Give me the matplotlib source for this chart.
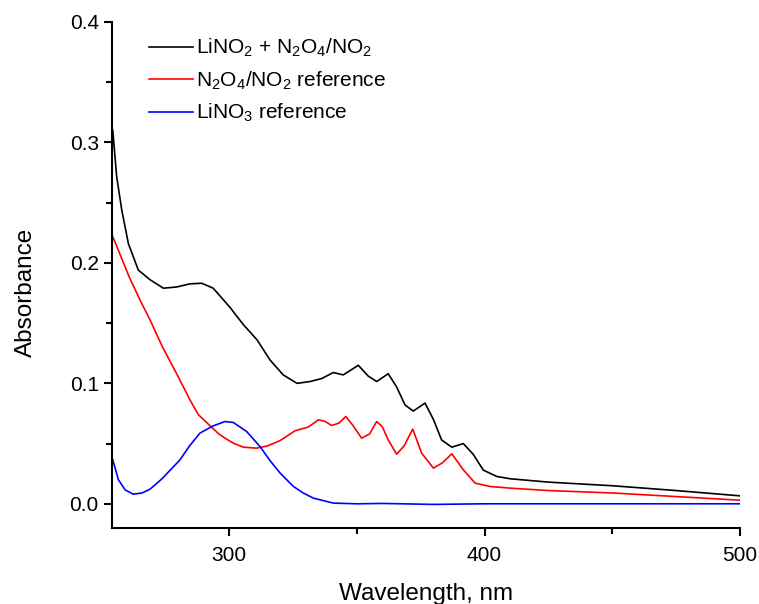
import matplotlib.pyplot as plt
from matplotlib.ticker import MultipleLocator

plt.rcParams['font.family'] = ['Liberation Sans', 'DejaVu Sans']
plt.rcParams['mathtext.fontset'] = 'custom'
plt.rcParams['mathtext.rm'] = 'Liberation Sans'
plt.rcParams['mathtext.default'] = 'regular'

# LiNO2 + N2O4/NO2 (black)
wl_mix = [254.5, 256.0, 258.0, 260.6, 264.5, 269.1, 274.3, 279.5, 284.7, 289.3, 293.8,
          300.4, 305.5, 311, 316, 321.2, 326.6, 331.7, 336.3, 340.8, 344.7, 350.6, 354.5,
          357.8, 362.3, 365.6, 368.9, 372.1, 376.7, 380, 383.2, 387.2, 391.7, 395.6, 399.5,
          404.8, 410, 425, 450, 475, 500]
abs_mix = [0.310, 0.272, 0.244, 0.216, 0.194, 0.186, 0.179, 0.180, 0.1826, 0.1831, 0.179,
           0.163, 0.149, 0.136, 0.1195, 0.107, 0.100, 0.1015, 0.104, 0.109, 0.107, 0.115, 0.106,
           0.1015, 0.108, 0.097, 0.082, 0.077, 0.0836, 0.070, 0.053, 0.047, 0.050, 0.041, 0.028,
           0.0227, 0.0208, 0.018, 0.015, 0.011, 0.0066]

# N2O4/NO2 reference (red)
wl_no2 = [254.5, 261, 265.2, 269, 274, 279, 284.7, 288, 292.6, 296, 299, 302, 305.6, 310.8,
          315, 320, 325.8, 331, 335, 337.5, 340.2, 343, 345.7, 348.5, 351.9, 355, 357.8, 360,
          362.3, 365.6, 368.5, 371.9, 375.4, 380, 383.5, 387.2, 391.7, 396.3, 402.1, 410,
          425, 450, 475, 500]
abs_no2 = [0.2218, 0.188, 0.169, 0.153, 0.130, 0.110, 0.0863, 0.074, 0.0647, 0.058, 0.0537,
           0.050, 0.047, 0.0462, 0.048, 0.0525, 0.0606, 0.0637, 0.0697, 0.0685, 0.065, 0.067,
           0.0725, 0.065, 0.0545, 0.058, 0.0683, 0.064, 0.053, 0.0412, 0.048, 0.062, 0.042,
           0.0296, 0.034, 0.0415, 0.0282, 0.0172, 0.0144, 0.013, 0.011, 0.009, 0.006, 0.003]

# LiNO3 reference (blue)
wl_no3 = [254.5, 256.7, 259.3, 262.5, 266, 269.1, 273.6, 277, 280.8, 284.5, 288.6, 293.8,
          298.4, 301.7, 306.9, 312.1, 316, 320, 325.2, 329, 333, 340.8, 350, 360, 380,
          400, 450, 500]
abs_no3 = [0.0365, 0.020, 0.0116, 0.008, 0.009, 0.0122, 0.0205, 0.028, 0.0365, 0.048, 0.0587,
           0.0647, 0.0683, 0.0675, 0.060, 0.0476, 0.036, 0.0255, 0.0144, 0.009, 0.0047, 0.0006,
           0.0, 0.0003, -0.0005, 0.0, 0.0, 0.0]

fig = plt.figure(figsize=(7.59, 6.04), dpi=100)
ax = fig.add_axes([0.1476, 0.126, 0.8274, 0.8376])

ax.plot(wl_mix, abs_mix, color='black', lw=1.2, label=r'LiNO$_2$ + N$_2$O$_4$/NO$_2$')
ax.plot(wl_no2, abs_no2, color='red', lw=1.2, label=r'N$_2$O$_4$/NO$_2$ reference')
ax.plot(wl_no3, abs_no3, color='blue', lw=1.2, label=r'LiNO$_3$ reference')

ax.set_xlim(254.2, 500)
ax.set_ylim(-0.02, 0.4)
ax.xaxis.set_major_locator(MultipleLocator(100))
ax.xaxis.set_minor_locator(MultipleLocator(50))
ax.yaxis.set_major_locator(MultipleLocator(0.1))
ax.yaxis.set_minor_locator(MultipleLocator(0.05))
ax.yaxis.set_major_formatter(plt.FuncFormatter(lambda v, p: f'{v:.1f}'))

for s in ['top', 'right']:
    ax.spines[s].set_visible(False)
for s in ['left', 'bottom']:
    ax.spines[s].set_linewidth(1.5)
ax.tick_params(which='major', direction='out', length=6, width=1.5, labelsize=15)
ax.tick_params(axis='x', which='major', pad=7)
ax.tick_params(which='minor', direction='out', length=4, width=1.5)

ax.set_xlabel('Wavelength, nm', fontsize=17.5, labelpad=13)
ax.set_ylabel('Absorbance', fontsize=17.5)
ax.yaxis.set_label_coords(-0.119, 0.466)

ax.legend(loc='upper left', bbox_to_anchor=(0.029, 1.007), frameon=False, fontsize=15,
          handlelength=2.1, handletextpad=0.15, labelspacing=0.48)

fig.savefig('out.png', dpi=100)
